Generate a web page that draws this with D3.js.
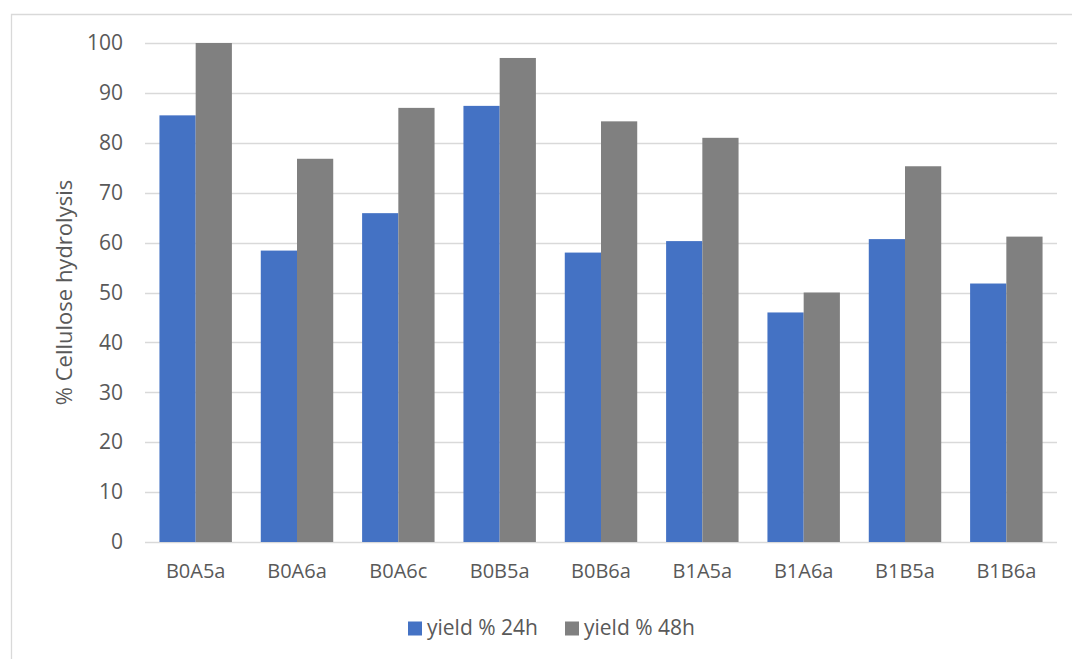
<!DOCTYPE html>
<html>
<head>
<meta charset="utf-8">
<script src="https://cdn.jsdelivr.net/npm/d3@7"></script>
<style>
  body { margin: 0; background: #fff; }
  svg { font-family: "Open Sans", "Noto Sans", sans-serif; }
</style>
</head>
<body>
<svg id="chart" width="1072" height="659"></svg>
<script>
// data
var categories = ["B0A5a", "B0A6a", "B0A6c", "B0B5a", "B0B6a", "B1A5a", "B1A6a", "B1B5a", "B1B6a"];
var seriesNames = ["yield % 24h", "yield % 48h"];
var yield24 = [85.5, 58.4, 65.9, 87.4, 58.0, 60.3, 46.0, 60.7, 51.8];
var yield48 = [100.0, 76.8, 87.0, 97.0, 84.3, 81.0, 50.0, 75.3, 61.2];
var yTicks = [0, 10, 20, 30, 40, 50, 60, 70, 80, 90, 100];
var colors = ["#4472C4", "#808080"];

var svg = d3.select("#chart"),
    margin = { top: 43, right: 15, bottom: 117, left: 145 },
    width = +svg.attr("width") - margin.left - margin.right,
    height = +svg.attr("height") - margin.top - margin.bottom;

// outer chart frame (only left and top edges are visible)
svg.append("path")
  .attr("d", "M11.5,659 V14.5 H1072")
  .attr("fill", "none")
  .attr("stroke", "#d9d9d9")
  .attr("stroke-width", 1.3);

var x = d3.scaleBand().domain(categories).range([0, width]).paddingInner(0.285).paddingOuter(0.1425);
var xs = d3.scaleBand().domain(seriesNames).range([0, x.bandwidth()]);
var y = d3.scaleLinear().domain([0, 100]).range([height, 0]);

var g = svg.append("g")
  .attr("transform", "translate(" + margin.left + "," + margin.top + ")");

// gridlines
g.append("g")
  .selectAll("line")
  .data(yTicks)
  .enter().append("line")
  .attr("x1", 0)
  .attr("x2", width)
  .attr("y1", function(d) { return Math.round(y(d)) + 0.5; })
  .attr("y2", function(d) { return Math.round(y(d)) + 0.5; })
  .attr("stroke", "#d9d9d9")
  .attr("stroke-width", 1.5);

// y axis labels
var yAxis = g.append("g")
  .call(d3.axisLeft(y).tickValues(yTicks).tickSize(0).tickPadding(22));
yAxis.select(".domain").remove();
yAxis.selectAll("text")
  .attr("fill", "#595959")
  .style("font-size", "21px")
  .style("font-family", "\"Open Sans\", sans-serif");

// x axis labels
var xAxis = g.append("g")
  .attr("transform", "translate(0," + height + ")")
  .call(d3.axisBottom(x).tickSize(0).tickPadding(22));
xAxis.select(".domain").remove();
xAxis.selectAll("text")
  .attr("fill", "#595959")
  .style("font-size", "20px")
  .style("font-family", "\"Open Sans\", sans-serif");

// bars
var rows = categories.map(function(c, i) {
  return { cat: c, values: [yield24[i], yield48[i]] };
});

var groups = g.selectAll(".grp")
  .data(rows)
  .enter().append("g")
  .attr("class", "grp")
  .attr("transform", function(d) { return "translate(" + x(d.cat) + ",0)"; });

groups.selectAll("rect")
  .data(function(d) { return d.values.map(function(v, k) { return { name: seriesNames[k], v: v, k: k }; }); })
  .enter().append("rect")
  .attr("x", function(d) { return xs(d.name); })
  .attr("y", function(d) { return y(d.v); })
  .attr("width", xs.bandwidth())
  .attr("height", function(d) { return height - y(d.v); })
  .attr("fill", function(d) { return colors[d.k]; });

// y axis title
svg.append("text")
  .attr("transform", "translate(64," + (margin.top + height / 2) + ") rotate(-90)")
  .attr("dy", "0.35em")
  .attr("text-anchor", "middle")
  .attr("fill", "#595959")
  .style("font-size", "22px")
  .text("% Cellulose hydrolysis");

// legend
var legendX = [408, 565];
var legend = svg.append("g");
seriesNames.forEach(function(name, k) {
  legend.append("rect")
    .attr("x", legendX[k])
    .attr("y", 621.5)
    .attr("width", 14)
    .attr("height", 14)
    .attr("fill", colors[k]);
  legend.append("text")
    .attr("x", legendX[k] + 19)
    .attr("y", 628)
    .attr("dy", "0.35em")
    .attr("fill", "#595959")
    .style("font-size", "21px")
    .text(name);
});
</script>
</body>
</html>
